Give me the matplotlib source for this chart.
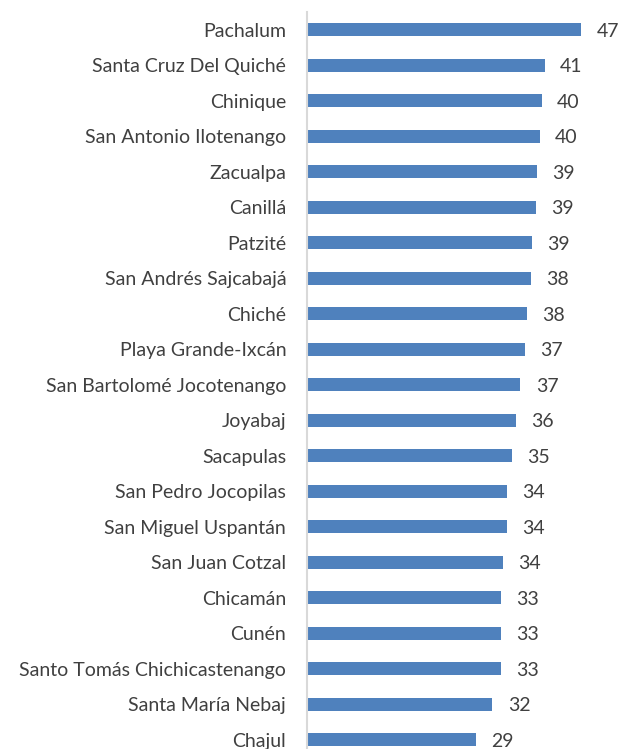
import matplotlib.pyplot as plt

plt.rcParams['font.family'] = ['Lato', 'DejaVu Sans']

municipios = [
    'Pachalum', 'Santa Cruz Del Quiché', 'Chinique', 'San Antonio Ilotenango',
    'Zacualpa', 'Canillá', 'Patzité', 'San Andrés Sajcabajá', 'Chiché',
    'Playa Grande-Ixcán', 'San Bartolomé Jocotenango', 'Joyabaj', 'Sacapulas',
    'San Pedro Jocopilas', 'San Miguel Uspantán', 'San Juan Cotzal', 'Chicamán',
    'Cunén', 'Santo Tomás Chichicastenango', 'Santa María Nebaj', 'Chajul',
]
valores = [47.0, 40.8, 40.3, 39.9, 39.4, 39.2, 38.6, 38.4, 37.7, 37.3, 36.6,
           35.9, 35.2, 34.3, 34.3, 33.6, 33.2, 33.2, 33.2, 31.8, 29.0]

fig = plt.figure(figsize=(6.22, 7.49), dpi=100)
ax = fig.add_axes([0.4936, -0.0113, 0.4687, 0.9953])

pos = list(range(len(municipios)))
ax.barh(pos, valores, height=0.37, color='#4F81BD')
ax.set_ylim(len(municipios) - 0.5, -0.5)
ax.set_xlim(0, 50)

for y, v in zip(pos, valores):
    ax.annotate(f'{v:.0f}', (v, y), xytext=(11, -1), textcoords='offset points',
                ha='left', va='center', fontsize=14, color='#404040')

ax.set_yticks(pos)
ax.set_yticklabels(municipios, fontsize=14, color='#404040')
ax.tick_params(axis='y', length=0, pad=15)
ax.set_xticks([])
for side in ['top', 'right', 'bottom']:
    ax.spines[side].set_visible(False)
ax.spines['left'].set_color('#D9D9D9')
ax.spines['left'].set_linewidth(1.5)

fig.savefig('out.png', dpi=100)
